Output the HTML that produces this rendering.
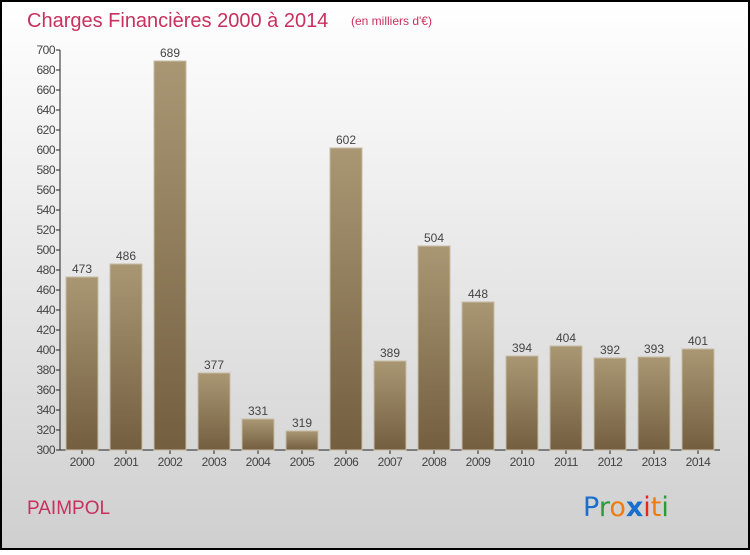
<!DOCTYPE html>
<html><head><meta charset="utf-8"><style>
html,body{margin:0;padding:0}
body{width:750px;height:550px;overflow:hidden;font-family:"Liberation Sans",sans-serif}
</style></head><body>
<svg width="750" height="550" xmlns="http://www.w3.org/2000/svg">
<defs>
<linearGradient id="bg" x1="0" y1="0" x2="0" y2="1"><stop offset="0" stop-color="#ffffff"/><stop offset="1" stop-color="#cfcfcf"/></linearGradient>
<linearGradient id="bar" x1="0" y1="0" x2="0" y2="1"><stop offset="0" stop-color="#a99774"/><stop offset="1" stop-color="#735f40"/></linearGradient>
</defs>
<rect x="1" y="1" width="748" height="548" fill="url(#bg)" stroke="#000" stroke-width="2"/>
<text x="27" y="27" font-size="20" fill="#c8305f">Charges Financières 2000 à 2014</text>
<text x="351" y="25" font-size="12" fill="#c8305f">(en milliers d'€)</text>
<g id="axes"></g>
<g id="bars"></g>
<text x="27" y="514" font-size="19" fill="#c8305f">PAIMPOL</text>
<text x="583" y="516" font-size="27" font-family="DejaVu Sans, sans-serif"><tspan fill="#1a6fcc">P</tspan><tspan fill="#2a9a3a">r</tspan><tspan fill="#f07c10">o</tspan><tspan fill="#1a6fcc" font-weight="bold">x</tspan><tspan fill="#e02a1a">i</tspan><tspan fill="#f07c10">t</tspan><tspan fill="#2a9a3a">i</tspan></text>
</svg>
<script>
const categories=["2000","2001","2002","2003","2004","2005","2006","2007","2008","2009","2010","2011","2012","2013","2014"];
const values=[473,486,689,377,331,319,602,389,504,448,394,404,392,393,401];
const yTicks=[300,320,340,360,380,400,420,440,460,480,500,520,540,560,580,600,620,640,660,680,700];
const NS="http://www.w3.org/2000/svg";
const y=v=>450-(v-300)*1.0;
const x=i=>82+i*44;
function mk(t,a,p){const e=document.createElementNS(NS,t);for(const k in a)e.setAttribute(k,a[k]);p.appendChild(e);return e;}
const ax=document.getElementById('axes'),bg=document.getElementById('bars');
const yl=mk('line',{x1:60,y1:50,x2:60,y2:450,stroke:'#222'},ax);


const xl=mk('line',{x1:60,y1:450,x2:720,y2:450,stroke:'#222'},ax);


yTicks.forEach(v=>{
 mk('line',{x1:56,y1:y(v),x2:60,y2:y(v),stroke:'#222'},ax);
 const t=mk('text',{x:55,y:y(v)+4,'font-size':12,fill:'#444','text-anchor':'end','letter-spacing':'-0.5'},ax);
 t.textContent=v;
 
 
});
categories.forEach((c,i)=>{
 const r=mk('rect',{x:x(i)-16,y:y(values[i]),width:32,height:450-y(values[i]),fill:'url(#bar)',stroke:'#c8bca4','stroke-width':1},bg);
 
 
 const v=mk('text',{x:x(i),y:y(values[i])-4,'font-size':12,fill:'#444','text-anchor':'middle'},bg);
 v.textContent=values[i];
 
 
 mk('line',{x1:x(i),y1:450,x2:x(i),y2:454,stroke:'#222'},ax);
 const t=mk('text',{x:x(i),y:466,'font-size':12,fill:'#444','text-anchor':'middle','letter-spacing':'-0.5'},ax);
 t.textContent=c;
 
 
});
</script>
</body></html>
